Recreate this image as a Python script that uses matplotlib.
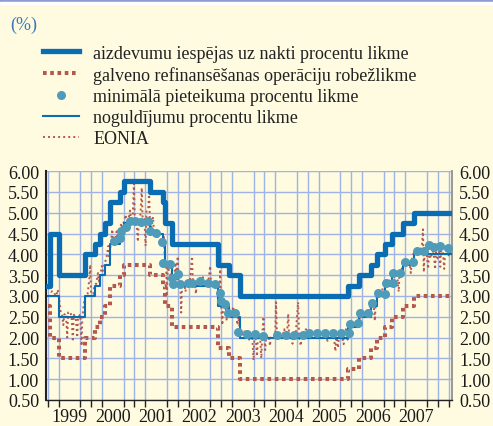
import matplotlib
matplotlib.use('Agg')
import matplotlib.pyplot as plt
from matplotlib.patches import Rectangle
from matplotlib.ticker import FixedLocator, FormatStrFormatter, MultipleLocator

plt.rcParams['font.family'] = ['Liberation Serif', 'DejaVu Serif']

# rate change dates (decimal years) and levels
change_t = [1999.0, 1999.055, 1999.27, 1999.85, 2000.09, 2000.21, 2000.32, 2000.44,
            2000.67, 2000.76, 2001.36, 2001.66, 2001.71, 2001.86, 2002.93, 2003.18,
            2003.43, 2005.93, 2006.19, 2006.45, 2006.61, 2006.78, 2006.95, 2007.20,
            2007.45, 2008.30]
lending_rate = [3.25, 4.50, 3.50, 4.00, 4.25, 4.50, 4.75, 5.25, 5.50, 5.75, 5.50, 5.25,
                4.75, 4.25, 3.75, 3.50, 3.00, 3.25, 3.50, 3.75, 4.00, 4.25, 4.50, 4.75,
                5.00, 5.00]
refi_rate = [3.00, 3.00, 2.50, 3.00, 3.25, 3.50, 3.75, 4.25, 4.50, 4.75, 4.50, 4.25,
             3.75, 3.25, 2.75, 2.50, 2.00, 2.25, 2.50, 2.75, 3.00, 3.25, 3.50, 3.75,
             4.00, 4.00]
deposit_rate = [2.75, 2.00, 1.50, 2.00, 2.25, 2.50, 2.75, 3.25, 3.50, 3.75, 3.50, 3.25,
                2.75, 2.25, 1.75, 1.50, 1.00, 1.25, 1.50, 1.75, 2.00, 2.25, 2.50, 2.75,
                3.00, 3.00]

# minimum bid rate points (variable rate tenders)
bid_t = [2000.54, 2000.66, 2000.70, 2000.80, 2000.91, 2001.01, 2001.16, 2001.31, 2001.35,
         2001.51, 2001.64, 2001.65, 2001.82, 2001.86, 2001.88, 2002.01, 2002.05, 2002.24,
         2002.34, 2002.51, 2002.70, 2002.86, 2002.97, 2002.99, 2003.09, 2003.17, 2003.32,
         2003.40, 2003.59, 2003.78, 2003.97, 2004.28, 2004.50, 2004.68, 2004.88, 2005.03,
         2005.22, 2005.40, 2005.59, 2005.78, 2005.96, 2005.98, 2006.17, 2006.21, 2006.40,
         2006.48, 2006.63, 2006.79, 2006.80, 2006.96, 2006.97, 2007.13, 2007.25, 2007.42,
         2007.52, 2007.69, 2007.80, 2007.92, 2008.06, 2008.23]
bid_v = [4.32, 4.38, 4.56, 4.65, 4.81, 4.81, 4.78, 4.81, 4.56, 4.52, 4.30, 3.79, 3.76,
         3.44, 3.28, 3.52, 3.28, 3.31, 3.32, 3.36, 3.31, 3.28, 3.08, 2.88, 2.80, 2.60,
         2.59, 2.14, 2.08, 2.08, 2.04, 2.06, 2.06, 2.06, 2.06, 2.12, 2.10, 2.10, 2.10,
         2.10, 2.10, 2.32, 2.35, 2.59, 2.59, 2.84, 3.07, 3.04, 3.31, 3.32, 3.55, 3.56,
         3.81, 3.82, 4.08, 4.08, 4.22, 4.17, 4.19, 4.14]

eonia_t = [1999.00, 1999.04, 1999.08, 1999.12, 1999.16, 1999.20, 1999.23, 1999.26, 1999.30,
           1999.33, 1999.36, 1999.38, 1999.42, 1999.45, 1999.47, 1999.52, 1999.55, 1999.58,
           1999.60, 1999.65, 1999.68, 1999.70, 1999.75, 1999.78, 1999.80, 1999.84, 1999.87,
           1999.92, 1999.96, 1999.98, 2000.00, 2000.05, 2000.08, 2000.12, 2000.16, 2000.18,
           2000.22, 2000.25, 2000.27, 2000.32, 2000.36, 2000.40, 2000.42, 2000.46, 2000.49,
           2000.51, 2000.55, 2000.59, 2000.61, 2000.66, 2000.70, 2000.72, 2000.76, 2000.80,
           2000.82, 2000.86, 2000.90, 2000.92, 2000.96, 2000.99, 2001.01, 2001.05, 2001.08,
           2001.10, 2001.14, 2001.17, 2001.19, 2001.23, 2001.26, 2001.28, 2001.32, 2001.34,
           2001.36, 2001.40, 2001.43, 2001.45, 2001.50, 2001.53, 2001.55, 2001.60, 2001.63,
           2001.66, 2001.68, 2001.70, 2001.73, 2001.75, 2001.77, 2001.80, 2001.84, 2001.86,
           2001.89, 2001.92, 2001.95, 2001.97, 2002.00, 2002.02, 2002.06, 2002.08, 2002.10,
           2002.15, 2002.18, 2002.20, 2002.25, 2002.28, 2002.33, 2002.35, 2002.40, 2002.42,
           2002.44, 2002.50, 2002.55, 2002.58, 2002.60, 2002.65, 2002.70, 2002.75, 2002.77,
           2002.82, 2002.86, 2002.90, 2002.93, 2002.96, 2002.98, 2003.00, 2003.03, 2003.05,
           2003.10, 2003.13, 2003.15, 2003.20, 2003.25, 2003.28, 2003.30, 2003.35, 2003.38,
           2003.40, 2003.44, 2003.48, 2003.52, 2003.55, 2003.57, 2003.62, 2003.65, 2003.67,
           2003.72, 2003.75, 2003.77, 2003.80, 2003.83, 2003.85, 2003.90, 2003.93, 2003.95,
           2003.98, 2004.00, 2004.02, 2004.04, 2004.10, 2004.13, 2004.15, 2004.20, 2004.25,
           2004.27, 2004.29, 2004.35, 2004.38, 2004.42, 2004.46, 2004.48, 2004.52, 2004.55,
           2004.57, 2004.62, 2004.65, 2004.67, 2004.72, 2004.78, 2004.80, 2004.84, 2004.86,
           2004.92, 2004.96, 2005.00, 2005.05, 2005.10, 2005.15, 2005.20, 2005.25, 2005.30,
           2005.35, 2005.40, 2005.46, 2005.48, 2005.55, 2005.60, 2005.64, 2005.66, 2005.70,
           2005.72, 2005.78, 2005.83, 2005.85, 2005.88, 2005.92, 2005.95, 2005.98, 2006.02,
           2006.08, 2006.12, 2006.18, 2006.21, 2006.25, 2006.30, 2006.35, 2006.40, 2006.45,
           2006.48, 2006.50, 2006.52, 2006.55, 2006.57, 2006.61, 2006.66, 2006.70, 2006.74,
           2006.78, 2006.82, 2006.86, 2006.90, 2006.96, 2006.98, 2007.02, 2007.06, 2007.10,
           2007.12, 2007.16, 2007.20, 2007.25, 2007.30, 2007.35, 2007.38, 2007.40, 2007.45,
           2007.50, 2007.55, 2007.60, 2007.64, 2007.66, 2007.68, 2007.70, 2007.74, 2007.78,
           2007.80, 2007.85, 2007.88, 2007.92, 2007.94, 2007.96, 2008.00, 2008.03, 2008.06,
           2008.08, 2008.12, 2008.15, 2008.17, 2008.22, 2008.26, 2008.30]
eonia_v = [3.20, 3.15, 3.10, 3.12, 3.05, 3.00, 3.15, 2.95, 2.60,
           2.55, 2.30, 2.55, 2.58, 2.00, 2.60, 2.62, 2.50, 1.90,
           2.55, 2.45, 2.00, 2.50, 2.55, 1.80, 2.50, 2.85, 3.00,
           3.05, 3.40, 3.75, 3.05, 3.05, 3.25, 3.30, 3.55, 3.35,
           3.55, 3.72, 3.60, 3.80, 3.95, 4.20, 3.95, 4.30, 4.60,
           4.30, 4.35, 4.55, 4.40, 4.55, 4.75, 4.60, 4.80, 4.95,
           4.80, 4.82, 5.05, 4.85, 4.90, 5.70, 4.85, 4.80, 4.30,
           4.80, 4.95, 5.60, 4.85, 4.85, 4.20, 5.05, 5.10, 5.50,
           4.70, 4.65, 4.90, 4.55, 4.55, 4.40, 4.50, 4.45, 4.25,
           4.30, 4.45, 3.95, 3.80, 3.00, 3.70, 3.60, 3.50, 3.20,
           3.35, 3.45, 3.80, 3.40, 3.95, 3.30, 3.30, 2.60, 3.30,
           3.30, 3.10, 3.32, 3.30, 3.35, 3.95, 3.30, 3.30, 3.05,
           3.30, 3.35, 3.30, 3.45, 3.30, 3.30, 3.30, 3.72, 3.30,
           3.30, 3.20, 3.30, 3.10, 2.85, 3.64, 2.80, 2.30, 2.80,
           2.80, 2.40, 2.78, 2.55, 2.55, 2.75, 2.55, 2.55, 2.30,
           2.50, 2.15, 2.10, 2.05, 2.20, 2.08, 2.08, 1.95, 2.05,
           2.05, 1.45, 2.05, 2.02, 1.55, 2.00, 2.05, 1.50, 2.05,
           2.50, 2.05, 1.70, 2.02, 2.05, 1.80, 2.03, 2.02, 2.05,
           2.85, 2.05, 2.03, 1.95, 2.05, 2.20, 2.05, 2.05, 2.57,
           2.05, 2.05, 1.85, 2.05, 2.05, 2.85, 2.05, 1.80, 2.05,
           2.10, 2.20, 2.08, 2.10, 2.05, 2.08, 2.06, 2.08, 2.05,
           2.07, 2.05, 1.92, 2.07, 2.08, 2.05, 1.67, 2.07, 1.75,
           2.08, 2.08, 1.84, 2.08, 2.20, 1.95, 2.10, 2.28, 2.30,
           2.33, 2.35, 2.30, 2.55, 2.60, 2.58, 2.62, 2.60, 2.80,
           2.90, 2.80, 2.85, 2.40, 2.85, 3.05, 3.05, 3.00, 3.25,
           3.30, 3.35, 3.30, 3.40, 3.60, 3.55, 3.60, 3.55, 3.10,
           3.55, 3.58, 3.82, 3.85, 3.80, 3.82, 3.55, 3.85, 4.05,
           4.07, 4.08, 4.10, 4.25, 4.60, 3.57, 4.10, 4.05, 3.65,
           4.00, 3.90, 4.20, 3.90, 3.64, 4.05, 3.90, 4.15, 3.70,
           4.10, 4.05, 3.65, 4.05, 4.10, 3.95, 4.10]

labels = ['aizdevumu iespējas uz nakti procentu likme',
          'galveno refinansēšanas operāciju robežlikme',
          'minimālā pieteikuma procentu likme',
          'noguldījumu procentu likme',
          'EONIA']
years = list(range(1999, 2008))

bg = '#fefbe1'
blue = '#0a6cb2'
red = '#b4584c'
dot_col = '#4f9bba'
grid_col = '#9fb3e6'

fig = plt.figure(figsize=(4.93, 4.27), dpi=100, facecolor=bg)
ax = fig.add_axes([0.0933, 0.061, 0.8235, 0.536])
ax.set_facecolor(bg)

l_eonia, = ax.plot(eonia_t, eonia_v, color=red, lw=1.4, dashes=(1, 1.6), zorder=2)
l_dep, = ax.step(change_t, deposit_rate, where='post', color=red, lw=2.9,
                 dashes=(0.9, 0.9), zorder=3)
l_refi, = ax.step(change_t, refi_rate, where='post', color=blue, lw=1.5, zorder=4)
l_bid, = ax.plot(bid_t, bid_v, 'o', color=dot_col, ms=6.5, mec='none', zorder=5)
l_lend, = ax.step(change_t, lending_rate, where='post', color=blue, lw=3.8, zorder=6)

ax.set_xlim(1998.96, 2008.33)
ax.set_ylim(0.5, 6.0)
ax.yaxis.set_major_locator(MultipleLocator(0.5))
ax.yaxis.set_major_formatter(FormatStrFormatter('%.2f'))
ax.xaxis.set_major_locator(FixedLocator([y + 0.5 for y in years]))
ax.set_xticklabels([str(y) for y in years])
ax.xaxis.set_minor_locator(MultipleLocator(0.25))

ax.grid(True, which='minor', axis='x', color=grid_col, lw=1, zorder=0)
ax.grid(True, which='major', axis='y', color=grid_col, lw=1, zorder=0)
ax.set_axisbelow(True)

ax.tick_params(axis='y', which='both', length=0, labelsize=13, pad=5,
               left=True, right=True, labelleft=True, labelright=True,
               labelcolor='#1a1a1a')
ax.tick_params(axis='x', which='major', length=0, labelsize=13, pad=6,
               labelcolor='#1a1a1a')
ax.tick_params(axis='x', which='minor', length=5, width=1, direction='out', color='#222222')

ax.spines['top'].set_visible(False)
ax.spines['left'].set_color('#222222')
ax.spines['left'].set_linewidth(1.5)
ax.spines['right'].set_color('#909090')
ax.spines['right'].set_linewidth(1.3)
ax.spines['bottom'].set_color('#222222')
ax.spines['bottom'].set_linewidth(1.0)

# legend in the order of the original
leg = fig.legend([l_lend, l_dep, l_bid, l_refi, l_eonia], labels,
                 loc='upper left', bbox_to_anchor=(0.088, 0.893), frameon=False,
                 fontsize=13, handlelength=1.95, handletextpad=0.8,
                 labelspacing=0.23, borderpad=0, borderaxespad=0, numpoints=1)
for t in leg.get_texts():
    t.set_color('#222222')

fig.text(0.02, 0.94, '(%)', color='#3b7ab7', fontsize=13, va='center', ha='left')

# top border strip
fig.add_artist(Rectangle((0, 1 - 3 / 427), 1, 3 / 427, transform=fig.transFigure,
                         color='#8e9cd2', zorder=10))
fig.add_artist(Rectangle((0, 1 - 5 / 427), 1, 2 / 427, transform=fig.transFigure,
                         color='white', zorder=10))

fig.savefig('out.png', dpi=100, facecolor=bg)
